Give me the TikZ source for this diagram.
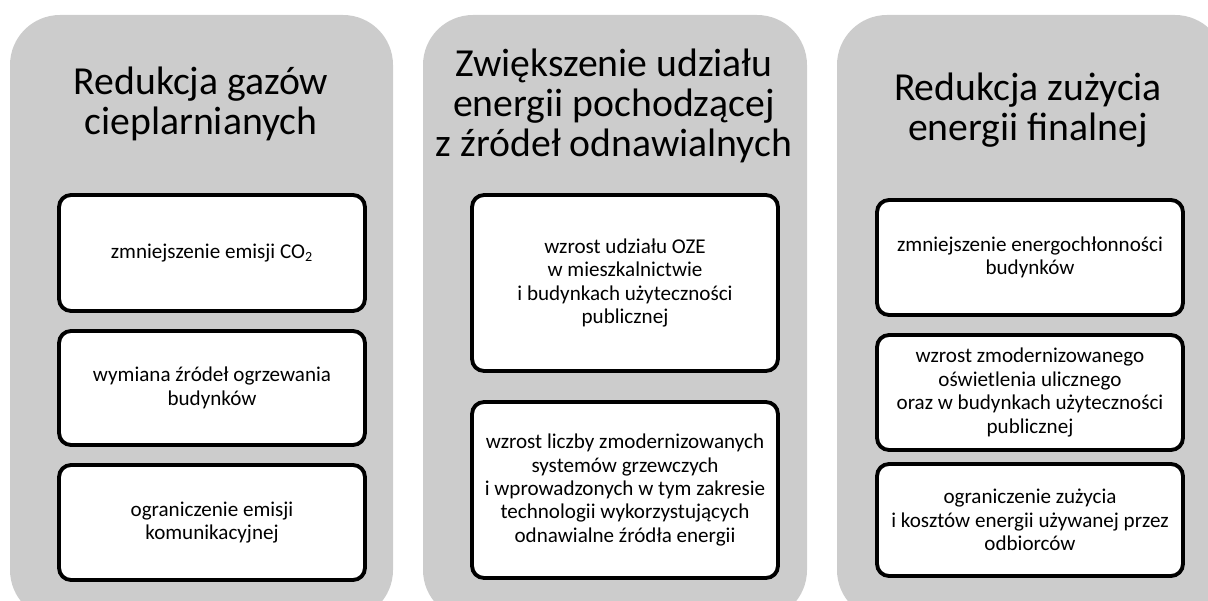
\documentclass[tikz,border=0pt]{standalone}
\usepackage{fontspec}
\setmainfont{Carlito}
\definecolor{colgrey}{RGB}{204,204,204}

\begin{document}
\begin{tikzpicture}[x=0.02cm,y=-0.02cm,
  column/.style={fill=colgrey,rounded corners=1cm},
  title/.style={align=center,font=\fontsize{22.6}{22.8}\selectfont},
  goal/.style={draw,fill=white,line width=2.2pt,rounded corners=0.24cm,align=center,
    minimum width=6.12cm,inner sep=2pt,font=\fontsize{12}{13.3}\selectfont}]
\useasboundingbox (0,0) rectangle (1208,601);
\clip (0,0) rectangle (1208,601);
\fill[column] (10,15) rectangle (393,620);
\fill[column] (423,15) rectangle (807,620);
\fill[column] (837,15) rectangle (1225,620);
\node[title] (ghg) at (201,104) {Redukcja gazów\\cieplarnianych};
\node[title] (oze) at (614,106) {Zwiększenie udziału\\energii pochodzącej\\z źródeł odnawialnych};
\node[title] (fin) at (1028,110) {Redukcja zużycia\\energii finalnej};
\node[goal,minimum height=2.32cm] (co) at (212,253) {zmniejszenie emisji CO\textsubscript{2}};
\node[goal,minimum height=2.28cm] (heat) at (212,388) {wymiana źródeł ogrzewania\\budynków};
\node[goal,minimum height=2.3cm] (traffic) at (212,522.5) {ograniczenie emisji\\komunikacyjnej};
\node[goal,minimum height=3.52cm] (share) at (625,283) {wzrost udziału OZE\\w mieszkalnictwie\\i budynkach użyteczności\\publicznej};
\node[goal,minimum height=3.52cm] (systems) at (625,490) {wzrost liczby zmodernizowanych\\systemów grzewczych\\i wprowadzonych w tym zakresie\\technologii wykorzystujących\\odnawialne źródła energii};
\node[goal,minimum height=2.3cm] (intensity) at (1030,257.5) {zmniejszenie energochłonności\\budynków};
\node[goal,minimum height=2.3cm] (light) at (1030,392.5) {wzrost zmodernizowanego\\oświetlenia ulicznego\\oraz w budynkach użyteczności\\publicznej};
\node[goal,minimum height=2.24cm] (cost) at (1030,520) {ograniczenie zużycia\\i kosztów energii używanej przez\\odbiorców};
\end{tikzpicture}
\end{document}
